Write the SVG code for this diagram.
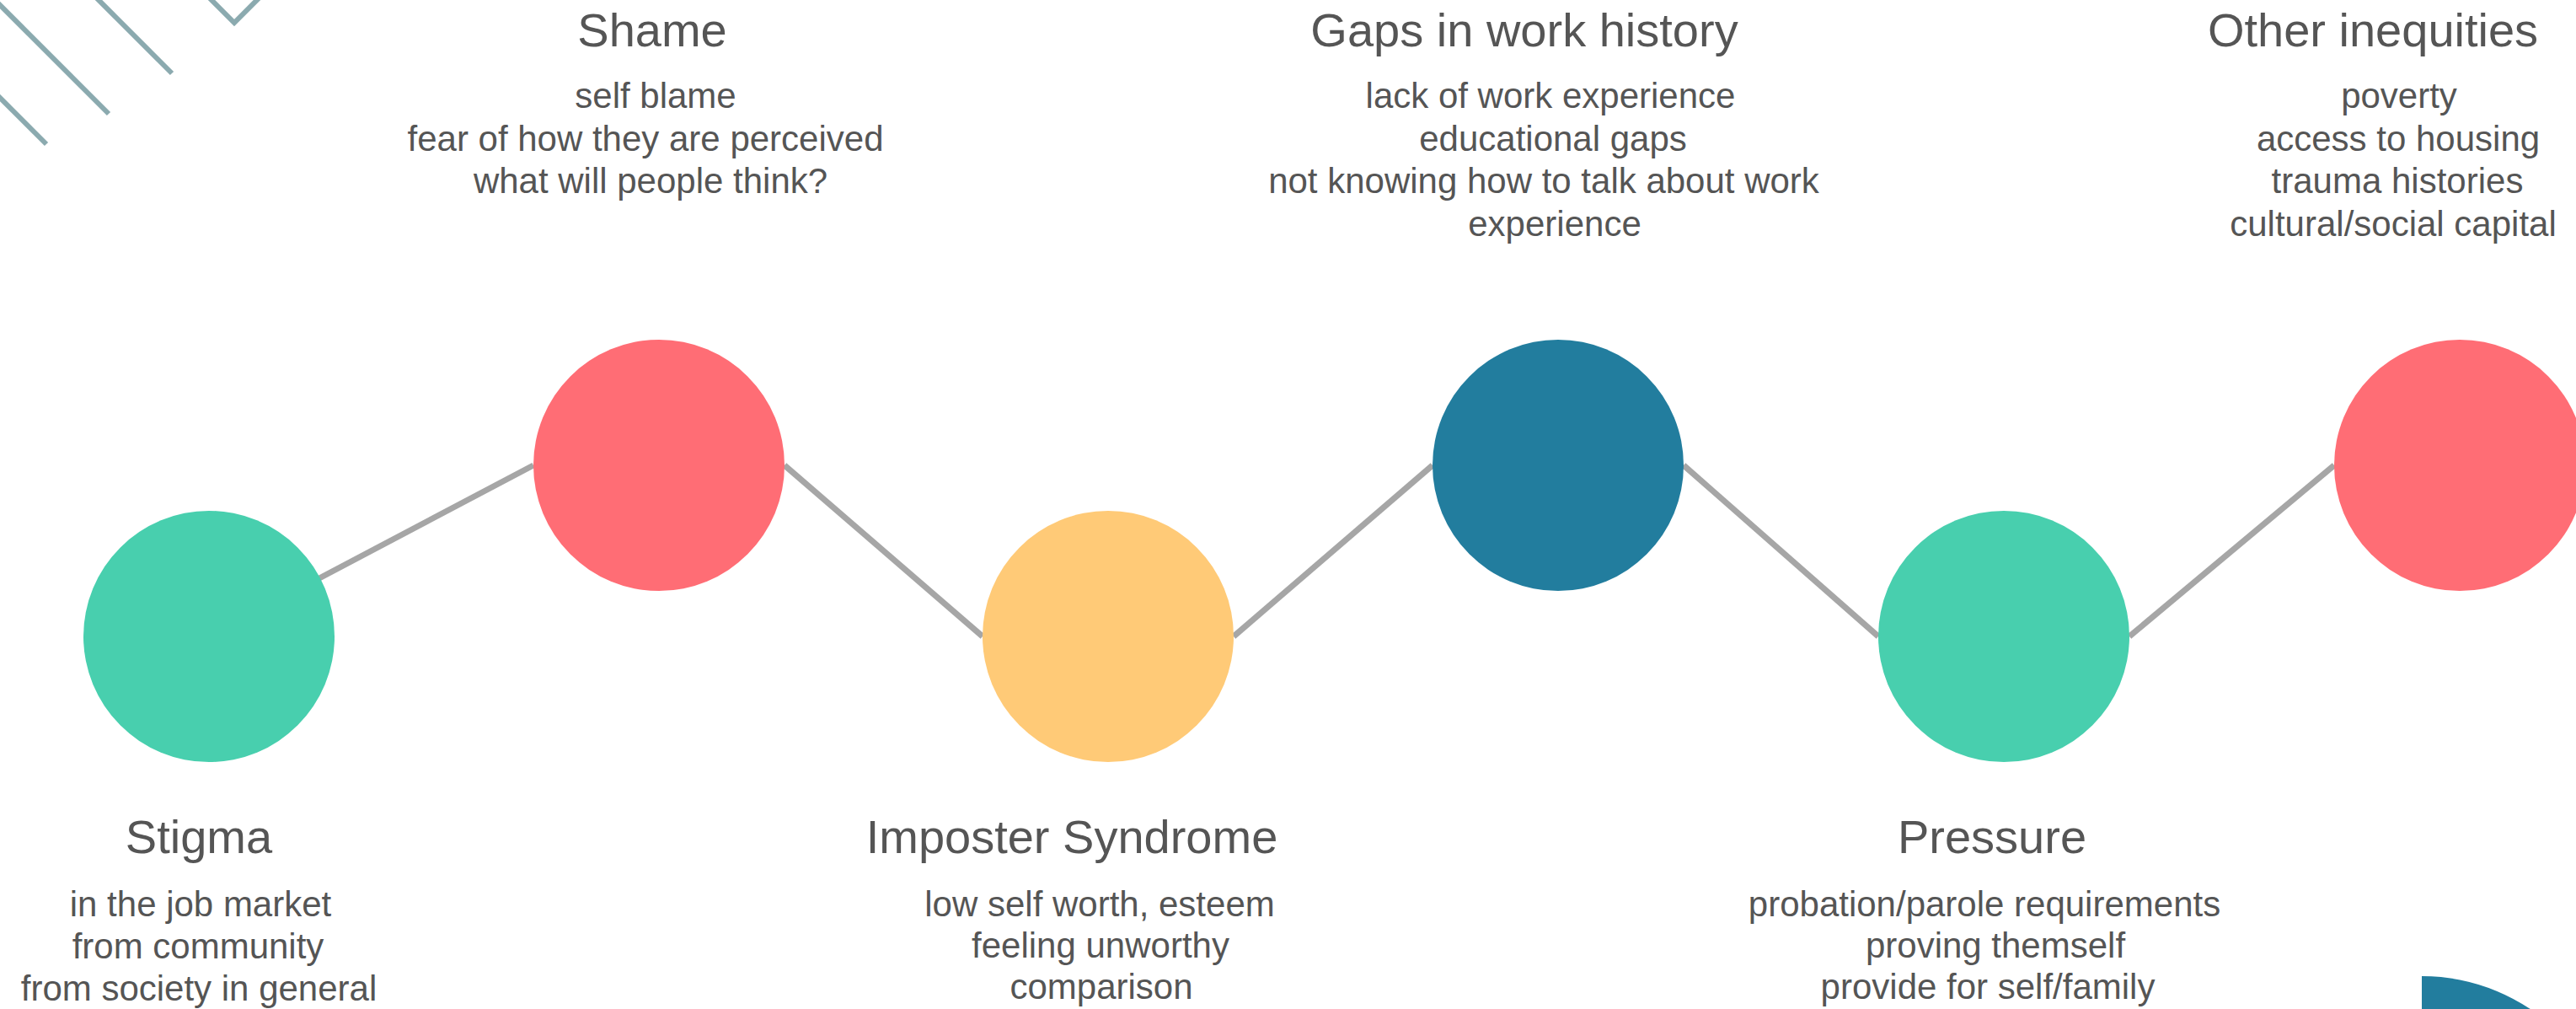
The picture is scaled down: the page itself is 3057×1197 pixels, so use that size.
<svg xmlns="http://www.w3.org/2000/svg" width="3057" height="1197" viewBox="0 0 3057 1197">
  <style>
    .title { font-family: "Liberation Sans", Arial, sans-serif; font-size: 56px; fill: #555555; text-anchor: middle; }
    .sub { font-family: "Liberation Sans", Arial, sans-serif; font-size: 42px; fill: #555555; text-anchor: middle; }
    .deco { stroke: #8BAAAF; stroke-width: 6; fill: none; }
    .link { stroke: #A6A6A6; stroke-width: 7; fill: none; }
    .green { fill: #48CFAE; }
    .red { fill: #FF6D75; }
    .yellow { fill: #FFCA77; }
    .blue { fill: #227D9E; }
  </style>

  <rect width="3057" height="1197" fill="#FFFFFF"/>

  <!-- corner ornaments -->
  <g id="decor">
    <line class="deco" x1="-10" y1="-4" x2="129" y2="135"/>
    <line class="deco" x1="112" y1="-5" x2="204" y2="87"/>
    <line class="deco" x1="-10" y1="106" x2="55" y2="171"/>
    <polyline class="deco" points="245,-6 278,27 311,-6"/>
    <path fill="#227D9E" d="M2874,1158 A232,232 0 0 1 3106,1390 L2874,1390 Z"/>
  </g>

  <!-- connectors between the milestones -->
  <g id="connectors">
    <line class="link" x1="248" y1="755" x2="633" y2="552"/>
    <line class="link" x1="931" y1="552" x2="1166" y2="755"/>
    <line class="link" x1="1464" y1="755" x2="1700" y2="552"/>
    <line class="link" x1="1998" y1="552" x2="2229" y2="755"/>
    <line class="link" x1="2527" y1="755" x2="2770" y2="552"/>
  </g>

  <g id="stigma">
    <circle class="green" cx="248" cy="755" r="149"/>
    <text class="title" x="236" y="1012">Stigma</text>
    <text class="sub" x="238" y="1087">in the job market</text>
    <text class="sub" x="235" y="1137">from community</text>
    <text class="sub" x="236" y="1187">from society in general</text>
  </g>

  <g id="shame">
    <circle class="red" cx="782" cy="552" r="149"/>
    <text class="title" x="774" y="55">Shame</text>
    <text class="sub" x="778" y="128">self blame</text>
    <text class="sub" x="766" y="178.5">fear of how they are perceived</text>
    <text class="sub" x="772" y="229">what will people think?</text>
  </g>

  <g id="imposter">
    <circle class="yellow" cx="1315" cy="755" r="149"/>
    <text class="title" x="1272" y="1012">Imposter Syndrome</text>
    <text class="sub" x="1305" y="1087">low self worth, esteem</text>
    <text class="sub" x="1306" y="1136">feeling unworthy</text>
    <text class="sub" x="1307" y="1185">comparison</text>
  </g>

  <g id="gaps">
    <circle class="blue" cx="1849" cy="552" r="149"/>
    <text class="title" x="1809" y="55">Gaps in work history</text>
    <text class="sub" x="1840" y="128">lack of work experience</text>
    <text class="sub" x="1843" y="178.5">educational gaps</text>
    <text class="sub" x="1832" y="229">not knowing how to talk about work</text>
    <text class="sub" x="1845" y="279.5">experience</text>
  </g>

  <g id="pressure">
    <circle class="green" cx="2378" cy="755" r="149"/>
    <text class="title" x="2364" y="1012">Pressure</text>
    <text class="sub" x="2355" y="1087">probation/parole requirements</text>
    <text class="sub" x="2368" y="1136">proving themself</text>
    <text class="sub" x="2359" y="1185">provide for self/family</text>
  </g>

  <g id="inequities">
    <circle class="red" cx="2919" cy="552" r="149"/>
    <text class="title" x="2816" y="55">Other inequities</text>
    <text class="sub" x="2847" y="128">poverty</text>
    <text class="sub" x="2846" y="178.5">access to housing</text>
    <text class="sub" x="2845" y="229">trauma histories</text>
    <text class="sub" x="2840" y="279.5">cultural/social capital</text>
  </g>
</svg>
